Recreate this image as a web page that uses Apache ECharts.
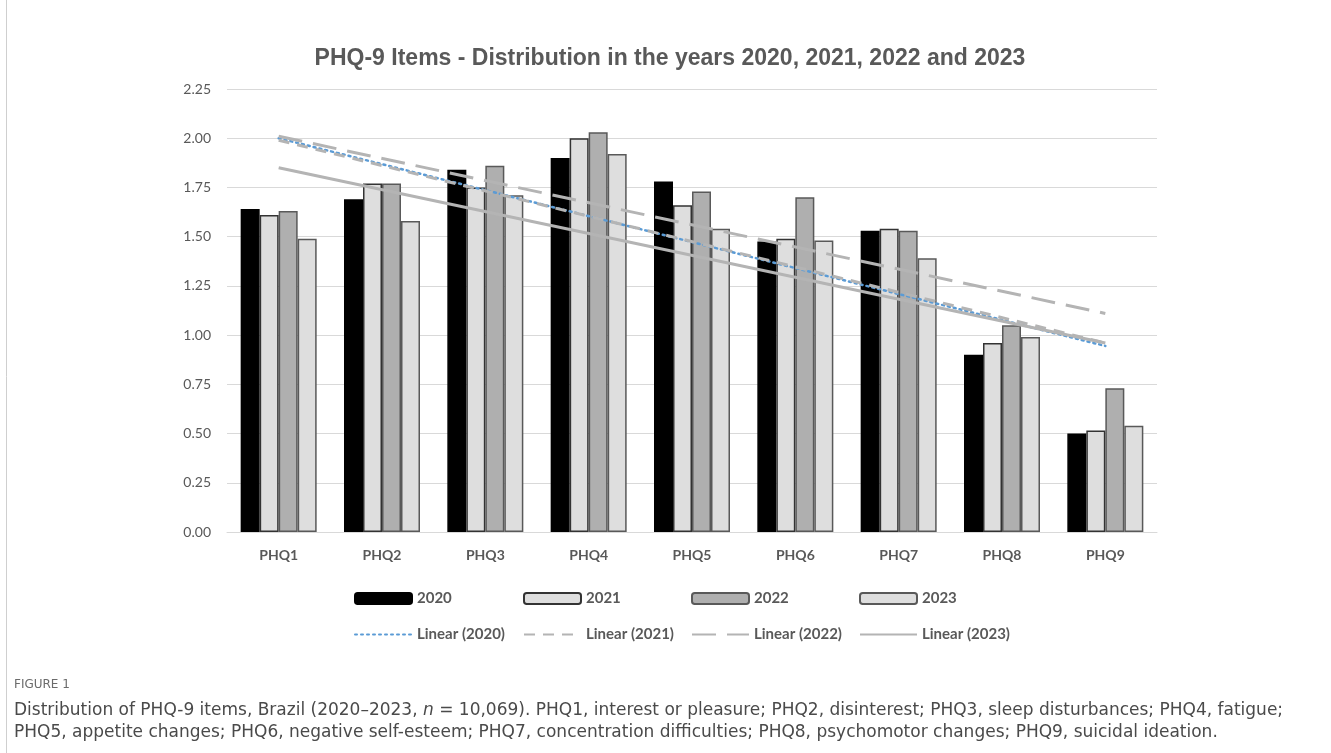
<!DOCTYPE html>
<html>
<head>
<meta charset="utf-8">
<title>PHQ-9 Items</title>
<script src="https://cdn.jsdelivr.net/npm/echarts@6/dist/echarts.min.js"></script>
<style>
    html, body { margin: 0; padding: 0; background: #fff; }
    #main { width: 1331px; height: 753px; }
</style>
</head>
<body>
<div id="main"></div>
<script>
var items = ["PHQ1", "PHQ2", "PHQ3", "PHQ4", "PHQ5", "PHQ6", "PHQ7", "PHQ8", "PHQ9"];
var years = ["2020", "2021", "2022", "2023"];

var values2020 = [1.64, 1.69, 1.84, 1.90, 1.78, 1.475, 1.53, 0.90, 0.50];
var values2021 = [1.61, 1.77, 1.75, 2.00, 1.66, 1.49, 1.54, 0.96, 0.515];
var values2022 = [1.63, 1.77, 1.86, 2.03, 1.73, 1.70, 1.53, 1.05, 0.73];
var values2023 = [1.49, 1.58, 1.71, 1.92, 1.54, 1.48, 1.39, 0.99, 0.54];

// trend lines: value at PHQ1 and at PHQ9
var trend2020 = [2.00, 0.945];
var trend2021 = [1.99, 0.96];
var trend2022 = [2.01, 1.11];
var trend2023 = [1.85, 0.96];

var yMin = 0, yMax = 2.25, yStep = 0.25;

var textGray = "#595959";
var font = "Lato, 'Open Sans', sans-serif";
var captionFont = "'DejaVu Sans', 'Noto Sans', sans-serif";

var barStyles = [
    { color: "#000000", borderColor: "#000000" },
    { color: "#dedede", borderColor: "#333333" },
    { color: "#afafaf", borderColor: "#595959" },
    { color: "#dedede", borderColor: "#595959" }
];
var trendStyles = [
    { color: "#5b9bd5", width: 2.5, type: [2, 4], cap: "round" },
    { color: "#b4b4b4", width: 3, type: [11, 8] },
    { color: "#b4b4b4", width: 3, type: [24, 11] },
    { color: "#b4b4b4", width: 3, type: "solid" }
];
var legendLefts = [349, 518, 686, 854];

var barData = [values2020, values2021, values2022, values2023];
var trendData = [trend2020, trend2021, trend2022, trend2023];

var series = [];
var legends = [];
years.forEach(function (y, i) {
    series.push({
        name: y,
        type: "bar",
        data: barData[i],
        barWidth: 19,
        barGap: "0%",
        itemStyle: { color: barStyles[i].color, borderColor: barStyles[i].borderColor, borderWidth: 1.5 },
        z: 2
    });
    legends.push({
        data: [y],
        left: legendLefts[i],
        top: 586,
        itemWidth: 57,
        itemHeight: 11,
        textStyle: { fontFamily: font, fontWeight: "bold", fontSize: 15, color: textGray }
    });
});
years.forEach(function (y, i) {
    var t = trendData[i];
    var name = "Linear (" + y + ")";
    series.push({
        name: name,
        type: "line",
        data: [[items[0], t[0]], [items[items.length - 1], t[1]]],
        symbol: "none",
        lineStyle: trendStyles[i],
        itemStyle: { color: trendStyles[i].color },
        z: 3
    });
    legends.push({
        data: [name],
        left: legendLefts[i],
        top: 622,
        itemWidth: 57,
        itemHeight: 14,
        itemStyle: { opacity: 0 },
        textStyle: { fontFamily: font, fontWeight: "bold", fontSize: 15, color: textGray }
    });
});

var mainChart = echarts.init(document.getElementById("main"));
var option = {
    animation: false,
    title: {
        text: "PHQ-9 Items - Distribution in the years 2020, 2021, 2022 and 2023",
        left: 665,
        top: 42,
        textAlign: "center",
        textStyle: { fontFamily: "'Liberation Sans', Arial, sans-serif", fontWeight: "bold", fontSize: 23, color: textGray }
    },
    grid: { left: 227, right: 174, top: 89, bottom: 221 },
    legend: legends,
    xAxis: {
        type: "category",
        data: items,
        axisLine: { lineStyle: { color: "#d9d9d9", width: 1 } },
        axisTick: { show: false },
        axisLabel: { fontFamily: font, fontWeight: "bold", fontSize: 14, color: textGray, margin: 16 }
    },
    yAxis: {
        type: "value",
        min: yMin,
        max: yMax,
        interval: yStep,
        axisLine: { show: false },
        axisTick: { show: false },
        splitLine: { lineStyle: { color: "#d9d9d9", width: 1 } },
        axisLabel: {
            fontFamily: font, fontSize: 14, color: textGray, margin: 16,
            formatter: function (v) { return v.toFixed(2); }
        }
    },
    graphic: [
        {
            type: "line", silent: true,
            shape: { x1: 6.5, y1: 0, x2: 6.5, y2: 753 },
            style: { stroke: "#cfcfcf", lineWidth: 1 }
        },
        {
            type: "text", left: 14, top: 679,
            style: { text: "FIGURE 1", fontFamily: captionFont, fontSize: 12, fill: "#6b6b6b" }
        },
        {
            type: "text", left: 14, top: 702,
            style: {
                text: "Distribution of PHQ-9 items, Brazil (2020\u20132023, {i|n} = 10,069). PHQ1, interest or pleasure; PHQ2, disinterest; PHQ3, sleep disturbances; PHQ4, fatigue;",
                fontFamily: captionFont, fontSize: 17, fill: "#4a4a4a",
                rich: { i: { fontFamily: captionFont, fontSize: 17, fontStyle: "italic", fill: "#4a4a4a" } }
            }
        },
        {
            type: "text", left: 14, top: 724,
            style: {
                text: "PHQ5, appetite changes; PHQ6, negative self-esteem; PHQ7, concentration difficulties; PHQ8, psychomotor changes; PHQ9, suicidal ideation.",
                fontFamily: captionFont, fontSize: 17, fill: "#4a4a4a"
            }
        }
    ],
    series: series
};
mainChart.setOption(option);
</script>
</body>
</html>
